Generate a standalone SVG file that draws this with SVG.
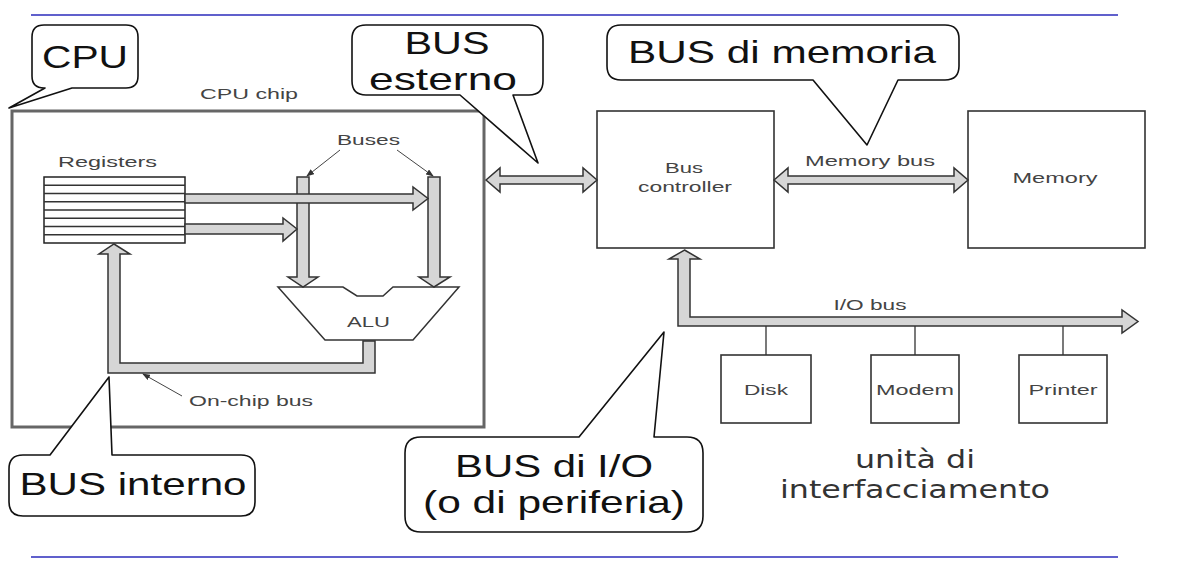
<svg xmlns="http://www.w3.org/2000/svg" width="1188" height="572" viewBox="0 0 1188 572">
<style>
.rule{stroke:#6060cc;stroke-width:2;fill:none}
.callout{fill:#fff;stroke:#111;stroke-width:1.6;stroke-linejoin:round}
.big{font-family:"Liberation Sans",Arial,sans-serif;font-size:32px;fill:#111;text-anchor:middle}
.sm{font-family:"Liberation Sans",Arial,sans-serif;font-size:15px;fill:#444;text-anchor:middle}
.it{font-family:"DejaVu Sans",Verdana,sans-serif;font-size:25px;fill:#333;text-anchor:middle}
.box{fill:#fff;stroke:#333;stroke-width:1.6}
.bus{fill:#d6d6d6;stroke:#333;stroke-width:1.5;stroke-linejoin:miter}
.thin{stroke:#333;stroke-width:1.3;fill:none}
.ptr{stroke:#444;stroke-width:1;fill:none;marker-end:url(#ah)}
</style>
<defs>
<marker id="ah" markerWidth="8" markerHeight="6" refX="7" refY="3" orient="auto" markerUnits="userSpaceOnUse">
<path d="M0,0 L8,3 L0,6 Z" fill="#333"/>
</marker>
</defs>
<rect width="1188" height="572" fill="#fff"/>
<line class="rule" x1="31" y1="15" x2="1118" y2="15"/>
<line class="rule" x1="31" y1="557" x2="1118" y2="557"/>

<g id="cpu-chip">
<rect x="12" y="111" width="472" height="316" fill="#fff" stroke="#666" stroke-width="3"/>
<text class="sm" x="249" y="99" textLength="98" lengthAdjust="spacingAndGlyphs">CPU chip</text>
</g>

<g id="registers">
<text class="sm" x="107.5" y="167" textLength="99" lengthAdjust="spacingAndGlyphs">Registers</text>
<rect x="44" y="177" width="141" height="66" fill="#fff" stroke="#222" stroke-width="1.5"/>
<path class="thin" d="M44,185.25H185M44,193.5H185M44,201.75H185M44,210H185M44,218.25H185M44,226.5H185M44,234.75H185"/>
</g>

<g id="alu">
<polygon points="278,287 343,287 357,296 383,296 393,287 459,287 413,340 325,340" fill="#fff" stroke="#333" stroke-width="1.5"/>
<text class="sm" x="368.5" y="327" textLength="43" lengthAdjust="spacingAndGlyphs">ALU</text>
</g>

<g id="bus-controller">
<rect class="box" x="597" y="111" width="177" height="137"/>
<text class="sm" x="684" y="173" textLength="38" lengthAdjust="spacingAndGlyphs">Bus</text>
<text class="sm" x="685" y="192" textLength="94" lengthAdjust="spacingAndGlyphs">controller</text>
</g>

<g id="memory">
<rect class="box" x="968" y="111" width="177" height="137"/>
<text class="sm" x="1055" y="183" textLength="85" lengthAdjust="spacingAndGlyphs">Memory</text>
</g>

<g id="disk">
<rect class="box" x="721" y="355" width="90" height="68"/>
<text class="sm" x="766" y="395" textLength="44" lengthAdjust="spacingAndGlyphs">Disk</text>
</g>
<g id="modem">
<rect class="box" x="871" y="355" width="88" height="68"/>
<text class="sm" x="915" y="395" textLength="78" lengthAdjust="spacingAndGlyphs">Modem</text>
</g>
<g id="printer">
<rect class="box" x="1019" y="355" width="88" height="68"/>
<text class="sm" x="1063" y="395" textLength="69" lengthAdjust="spacingAndGlyphs">Printer</text>
</g>

<g id="connectors">
<!-- internal buses -->
<polygon class="bus" points="297,177 309,177 309,277 318,277 303,287 288,277 297,277"/>
<polygon class="bus" points="428,177 440,177 440,277 450,277 434,287 419,277 428,277"/>
<polygon class="bus" points="185,194 413,194 413,187 428,198.5 413,210 413,203 185,203"/>
<polygon class="bus" points="185,224 283,224 283,218 297,229 283,241 283,234 185,234"/>
<polygon class="bus" points="375,341 375,373 108,373 108,254 99,254 114,244 130,254 120,254 120,363 363,363 363,341"/>
<!-- external bus -->
<polygon class="bus" points="486,180 500,168 500,176 583,176 583,168 597,180 583,192 583,184 500,184 500,192"/>
<!-- memory bus -->
<polygon class="bus" points="774,180 788,168 788,176 954,176 954,168 968,180 954,192 954,184 788,184 788,192"/>
<!-- I/O bus -->
<polygon class="bus" points="684.5,250 700,259 690,259 690,317 1122,317 1122,310 1138,321.5 1122,333 1122,326 678,326 678,259 669,259"/>
<path class="thin" d="M766,326V355M915,326V355M1063,326V355"/>
<!-- pointers -->
<line class="ptr" x1="340" y1="150" x2="307" y2="176"/>
<line class="ptr" x1="397" y1="150" x2="433" y2="176"/>
<line class="ptr" x1="182" y1="396" x2="143" y2="374"/>
</g>

<g id="bus-labels">
<text class="sm" x="251" y="406" textLength="124" lengthAdjust="spacingAndGlyphs">On-chip bus</text>
<text class="sm" x="368.5" y="145" textLength="63" lengthAdjust="spacingAndGlyphs">Buses</text>
<text class="sm" x="870" y="166" textLength="130" lengthAdjust="spacingAndGlyphs">Memory bus</text>
<text class="sm" x="870" y="310" textLength="73" lengthAdjust="spacingAndGlyphs">I/O bus</text>
</g>

<g id="callout-cpu">
<path class="callout" d="M44,25 H126 Q138,25 138,37 V76 Q138,88 126,88 H72 L9,108 L45,88 H44 Q32,88 32,76 V37 Q32,25 44,25 Z"/>
<text class="big" x="85" y="68" textLength="86" lengthAdjust="spacingAndGlyphs">CPU</text>
</g>

<g id="callout-bus-esterno">
<path class="callout" d="M366,25 H529 Q543,25 543,39 V81 Q543,95 529,95 H513 L538,163 L460,95 H366 Q352,95 352,81 V39 Q352,25 366,25 Z"/>
<text class="big" x="447" y="54" textLength="85" lengthAdjust="spacingAndGlyphs">BUS</text>
<text class="big" x="443" y="90" textLength="148" lengthAdjust="spacingAndGlyphs">esterno</text>
</g>

<g id="callout-bus-memoria">
<path class="callout" d="M621,25 H945 Q959,25 959,39 V66 Q959,80 945,80 H898 L867,145 L813,80 H621 Q607,80 607,66 V39 Q607,25 621,25 Z"/>
<text class="big" x="782" y="63" font-size="33" textLength="308" lengthAdjust="spacingAndGlyphs">BUS di memoria</text>
</g>

<g id="callout-bus-io">
<path class="callout" d="M421,437 H579 L664,332 L654,437 H687 Q703,437 703,453 V516 Q703,532 687,532 H421 Q405,532 405,516 V453 Q405,437 421,437 Z"/>
<text class="big" x="554" y="477" textLength="198" lengthAdjust="spacingAndGlyphs">BUS di I/O</text>
<text class="big" x="554" y="513" textLength="262" lengthAdjust="spacingAndGlyphs">(o di periferia)</text>
</g>

<g id="callout-bus-interno">
<path class="callout" d="M23,455 H50 L109,377 L112,455 H241 Q255,455 255,469 V502 Q255,516 241,516 H23 Q9,516 9,502 V469 Q9,455 23,455 Z"/>
<text class="big" x="133" y="495" textLength="227" lengthAdjust="spacingAndGlyphs">BUS interno</text>
</g>

<g id="interface-label">
<text class="it" x="915" y="468" textLength="120" lengthAdjust="spacingAndGlyphs">unità di</text>
<text class="it" x="915" y="498" textLength="270" lengthAdjust="spacingAndGlyphs">interfacciamento</text>
</g>
</svg>
